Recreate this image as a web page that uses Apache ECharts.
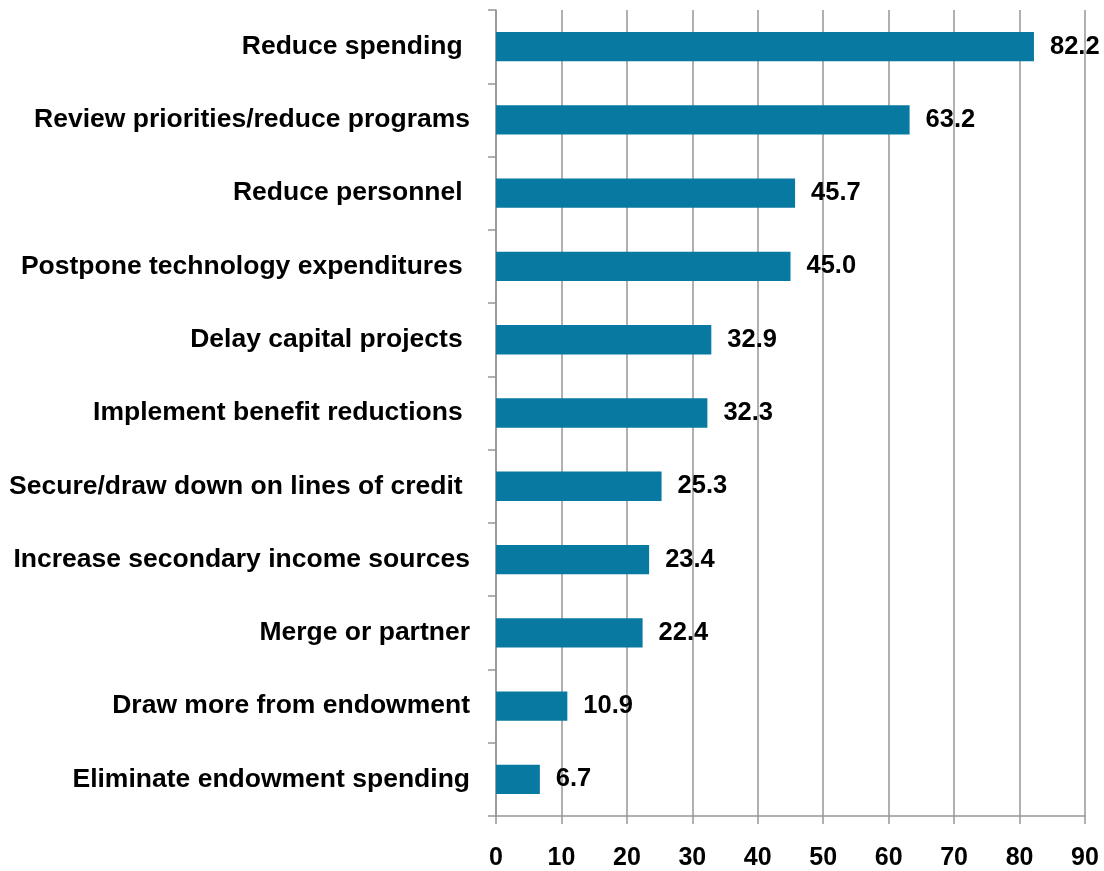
<!DOCTYPE html>
<html>
<head>
<meta charset="utf-8">
<style>
  html, body { margin: 0; padding: 0; background: #ffffff; }
  #chart { width: 1104px; height: 871px; }
</style>
<script src="https://cdn.jsdelivr.net/npm/echarts@6/dist/echarts.min.js"></script>
</head>
<body>
<div id="chart"></div>
<script>
// Budget-response actions, listed top to bottom (trailing spaces kept as in the source labels)
const categories = [
  'Reduce spending ',
  'Review priorities/reduce programs',
  'Reduce personnel ',
  'Postpone technology expenditures ',
  'Delay capital projects ',
  'Implement benefit reductions ',
  'Secure/draw down on lines of credit ',
  'Increase secondary income sources',
  'Merge or partner',
  'Draw more from endowment',
  'Eliminate endowment spending'
];
// Share of respondents, percent
const values = [82.2, 63.2, 45.7, 45.0, 32.9, 32.3, 25.3, 23.4, 22.4, 10.9, 6.7];
const xTicks = { min: 0, max: 90, interval: 10 };

const FONT = '"Liberation Sans", Arial, Helvetica, sans-serif';
const GRAY = '#969696';

const chart = echarts.init(document.getElementById('chart'), null, { renderer: 'canvas' });
chart.setOption({
  animation: false,
  backgroundColor: '#ffffff',
  grid: { left: 496, right: 19, top: 10, bottom: 54, containLabel: false },
  xAxis: {
    type: 'value',
    min: xTicks.min,
    max: xTicks.max,
    interval: xTicks.interval,
    axisLine: { show: true, lineStyle: { color: GRAY, width: 1.5 } },
    axisTick: { show: true, length: 8, inside: false, lineStyle: { color: GRAY, width: 1.5 } },
    splitLine: { show: true, lineStyle: { color: GRAY, width: 1.5 } },
    axisLabel: {
      margin: 30,
      color: '#000000',
      fontFamily: FONT,
      fontWeight: 'bold',
      fontSize: 25
    }
  },
  yAxis: {
    type: 'category',
    inverse: true,
    data: categories,
    axisLine: { show: true, lineStyle: { color: GRAY, width: 1.5 } },
    axisTick: { show: true, length: 8, inside: false, alignWithLabel: false, lineStyle: { color: GRAY, width: 1.5 } },
    splitLine: { show: false },
    axisLabel: {
      margin: 26,
      color: '#000000',
      fontFamily: FONT,
      fontWeight: 'bold',
      fontSize: 26.5
    }
  },
  series: [{
    type: 'bar',
    data: values,
    barWidth: '40%',
    itemStyle: { color: '#0879A0' },
    label: {
      show: true,
      position: 'right',
      distance: 16,
      color: '#000000',
      fontFamily: FONT,
      fontWeight: 'bold',
      fontSize: 25.5,
      formatter: p => p.value.toFixed(1)
    }
  }]
});
</script>
</body>
</html>
